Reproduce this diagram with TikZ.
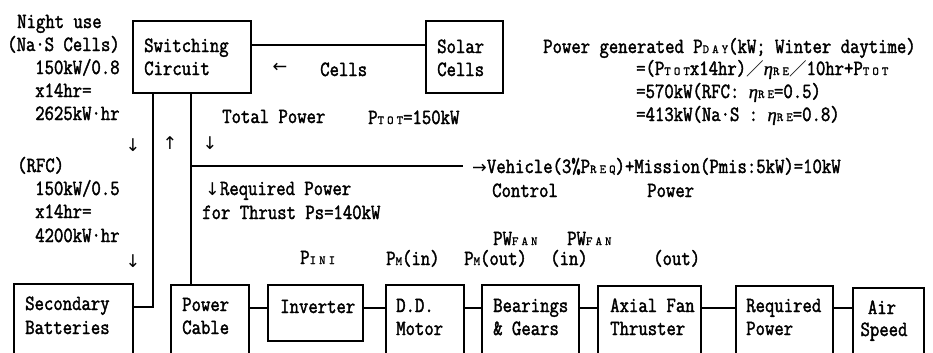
\documentclass[tikz,border=0pt]{standalone}
\usepackage{fontspec}
\usetikzlibrary{fit,calc}
\newfontfamily\jmono[FakeStretch=0.84,FakeBold=1.8]{Latin Modern Mono}
\newfontfamily\jsub[LetterSpace=25,FakeBold=1.2]{Latin Modern Mono}
\newfontfamily\greek[FakeBold=1]{Liberation Serif}
\newfontfamily\arw{DejaVu Sans}
\newfontfamily\cjk{Noto Sans CJK JP}
\newcommand\lo[1]{{\jsub\fontsize{10.5}{10.5}\selectfont #1}}
\newcommand\etare{{\greek\itshape\fontsize{16}{16}\selectfont η}}
\newcommand\ar[1]{{\arw\fontsize{15}{15}\selectfont #1}}
\newcommand\fsl{{\cjk\fontsize{15}{15}\selectfont ／}}
\tikzset{
  blk/.style={draw, line width=1.4pt, inner sep=0pt},
  wire/.style={line width=1.3pt},
  txt/.style={anchor=base west, inner sep=0pt, font=\jmono\fontsize{18.5}{21}\selectfont},
  arrowtxt/.style={inner sep=0pt},
}
\begin{document}
\begin{tikzpicture}[x=0.03cm, y=-0.03cm]
  \useasboundingbox (0,0) rectangle (933,352);
  \clip (0,0) rectangle (933,352);
  % blocks
  \node[blk, fit={(133,21) (251,93)}] (sw) {};
  \node[blk, fit={(426,21) (503,93)}] (so) {};
  \node[blk, fit={(14,284) (133,380)}] (bat) {};
  \node[blk, fit={(171,285) (249,380)}] (cab) {};
  \node[blk, fit={(268,285) (363,341)}] (inv) {};
  \node[blk, fit={(386,285) (464,380)}] (ddm) {};
  \node[blk, fit={(482,285) (579,380)}] (brg) {};
  \node[blk, fit={(598,286) (701,380)}] (fan) {};
  \node[blk, fit={(736,286) (833,380)}] (req) {};
  \node[blk, fit={(853,288) (924,380)}] (air) {};
  % block texts
  \node[txt] (swa) at (144,52) {Switching};
  \node[txt] (swb) at (144,75) {Circuit};
  \node[txt] (soa) at (437,53) {Solar};
  \node[txt] (sob) at (437,76) {Cells};
  \node[txt] (bata) at (25,310) {Secondary};
  \node[txt] (batb) at (25,334) {Batteries};
  \node[txt] (caba) at (182,311) {Power};
  \node[txt] (cabb) at (182,334) {Cable};
  \node[txt] (inva) at (280,313) {Inverter};
  \node[txt] (ddma) at (396,312) {D.D.};
  \node[txt] (ddmb) at (396,335) {Motor};
  \node[txt] (brga) at (493,312) {Bearings};
  \node[txt] (brgb) at (493,335) {\& Gears};
  \node[txt] (fana) at (610,312) {Axial Fan};
  \node[txt] (fanb) at (610,335) {Thruster};
  \node[txt] (reqa) at (746,312) {Required};
  \node[txt] (reqb) at (746,335) {Power};
  \node[txt, anchor=base] (aira) at (882,314) {Air};
  \node[txt, anchor=base] (airb) at (884,336) {Speed};
  % connectors
  \coordinate (y45) at (0,45);
  \coordinate (y308) at (0,308);
  \coordinate (vL) at (153,307);
  \coordinate (vR) at (191,166);
  \coordinate (vE) at (463,166);
  \draw[wire] (sw.east |- y45) -- (so.west |- y45);
  \draw[wire] (sw.south -| vL) -- (vL) -- (bat.east |- vL);
  \draw[wire] (sw.south -| vR) -- (cab.north -| vR);
  \draw[wire] (vR) -- (vE);
  \foreach \a/\b in {cab/inv, inv/ddm, ddm/brg, brg/fan, fan/req, req/air}
    \draw[wire] (\a.east |- y308) -- (\b.west |- y308);
  % night use figures
  \node[txt] (ng1) at (17,28) {Night use};
  \node[txt] (ng2) at (7,51) {(Na·S Cells)};
  \node[txt] (ng3) at (35,74) {150kW/0.8};
  \node[txt] (ng4) at (35,97) {x14hr=};
  \node[txt] (ng5) at (35,120) {2625kW·hr};
  \node[arrowtxt] (ng6) at (133,145) {\ar{↓}};
  \node[txt] (rf1) at (17,172) {(RFC)};
  \node[txt] (rf2) at (35,195) {150kW/0.5};
  \node[txt] (rf3) at (35,218) {x14hr=};
  \node[txt] (rf4) at (35,242) {4200kW·hr};
  \node[arrowtxt] (rf5) at (133,261) {\ar{↓}};
  % flow labels
  \node[arrowtxt] (upl) at (170,143) {\ar{↑}};
  \node[arrowtxt] (dnl) at (210,143) {\ar{↓}};
  \node[arrowtxt] (lfl) at (280,68) {\ar{←}};
  \node[txt] (cel) at (320,76) {Cells};
  \node[txt] (tot) at (222,123) {Total Power};
  \node[txt] (ptot) at (368,124) {P\lo{TOT}=150kW};
  \node[txt] (veh) at (472,173) {\ar{→}Vehicle(3\%P\lo{REQ})+Mission(Pmis:5kW)=10kW};
  \node[txt] (ctl) at (492,197) {Control};
  \node[txt] (pwr) at (647,197) {Power};
  \node[txt] (rq1) at (205,195) {\ar{↓}Required Power};
  \node[txt] (rq2) at (202,219) {for Thrust Ps=140kW};
  % daytime generation
  \node[txt] (gn1) at (543,53) {Power generated P\lo{DAY}(kW; Winter daytime)};
  \node[txt] (gn2) at (636,75) {=(P\lo{TOT}x14hr)\fsl\etare\lo{RE}\fsl 10hr+P\lo{TOT}};
  \node[txt] (gn3) at (636,98) {=570kW(RFC: \etare\lo{RE}=0.5)};
  \node[txt] (gn4) at (636,121) {=413kW(Na·S : \etare\lo{RE}=0.8)};
  % powers along the drive train
  \node[txt] (pw1) at (493,245) {PW\lo{FAN}};
  \node[txt] (pw2) at (567,245) {PW\lo{FAN}};
  \node[txt] (pini) at (300,264) {P\lo{INI}};
  \node[txt] (pmi) at (386,265) {P\lo{M}(in)};
  \node[txt] (pmo) at (464,265) {P\lo{M}(out)};
  \node[txt] (fin) at (550,265) {(in)};
  \node[txt] (fout) at (653,265) {(out)};
\end{tikzpicture}
\end{document}
